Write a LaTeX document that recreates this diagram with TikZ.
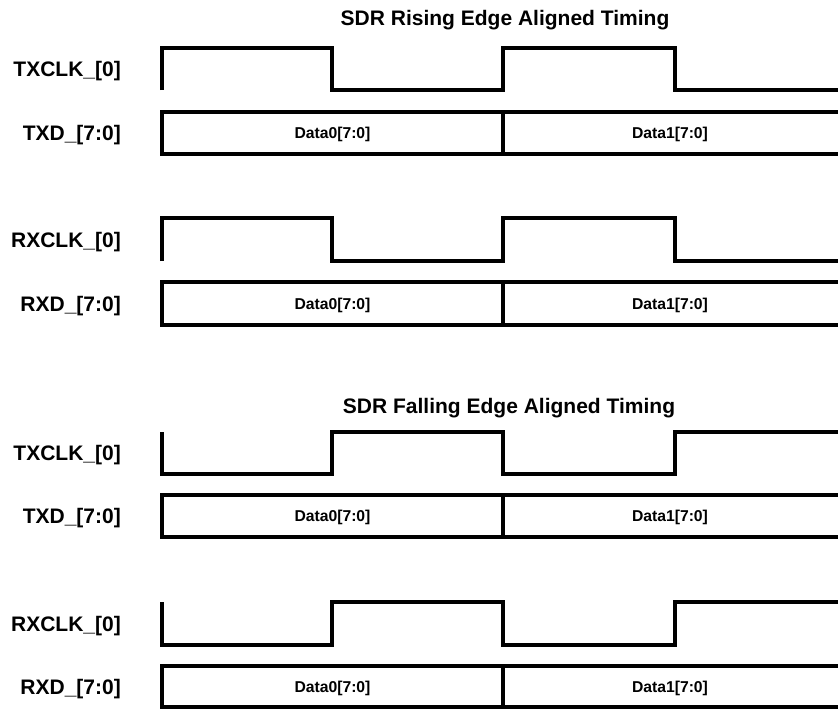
\documentclass[tikz,border=0pt]{standalone}
\usepackage{fontspec}
\setmainfont{Liberation Sans}

\begin{document}
\begin{tikzpicture}[x=1pt, y=-1pt,
        headline/.style={font=\fontsize{21}{21}\selectfont\bfseries, text height=15pt, text depth=0pt, inner sep=0pt},
        signame/.style={font=\fontsize{21}{21}\selectfont\bfseries, text height=15pt, text depth=0pt, inner sep=0pt, anchor=east},
        datatext/.style={font=\fontsize{15.7}{16}\selectfont\bfseries, text height=11.2pt, text depth=0pt, inner sep=0pt},
        wave/.style={line width=3.2pt, line join=miter},
    ]
    \useasboundingbox (0,0) rectangle (838,709);
    \clip (0,0) rectangle (838,709);

    % rising edge aligned
    \node[headline] (riseTitle) at (505,18.5)  {SDR Rising Edge Aligned Timing};
    \node[signame]  (riseTxClk) at (121,69)    {TXCLK\_[0]};
    \node[signame]  (riseTxD)   at (121,133)   {TXD\_[7:0]};
    \node[signame]  (riseRxClk) at (121,239.5) {RXCLK\_[0]};
    \node[signame]  (riseRxD)   at (121,303.5) {RXD\_[7:0]};
    \node[datatext] (riseTxDa)  at (332.5,133) {Data0[7:0]};
    \node[datatext] (riseTxDb)  at (670,133)   {Data1[7:0]};
    \node[datatext] (riseRxDa)  at (332.5,303.5) {Data0[7:0]};
    \node[datatext] (riseRxDb)  at (670,303.5) {Data1[7:0]};

    \draw[wave] (162,90) -- (162,48) -- (332,48) -- (332,90) -- (503,90) -- (503,48) -- (675,48) -- (675,90) -- (845,90);
    \draw[wave] (845,112) -- (162,112) -- (162,154) -- (845,154);
    \draw[wave] (503,112) -- (503,154);
    \draw[wave] (162,261) -- (162,218) -- (332,218) -- (332,261) -- (503,261) -- (503,218) -- (675,218) -- (675,261) -- (845,261);
    \draw[wave] (845,282) -- (162,282) -- (162,325) -- (845,325);
    \draw[wave] (503,282) -- (503,325);

    % falling edge aligned
    \node[headline] (fallTitle) at (509,406)   {SDR Falling Edge Aligned Timing};
    \node[signame]  (fallTxClk) at (121,453)   {TXCLK\_[0]};
    \node[signame]  (fallTxD)   at (121,516)   {TXD\_[7:0]};
    \node[signame]  (fallRxClk) at (121,623.5) {RXCLK\_[0]};
    \node[signame]  (fallRxD)   at (121,686.5) {RXD\_[7:0]};
    \node[datatext] (fallTxDa)  at (332.5,516) {Data0[7:0]};
    \node[datatext] (fallTxDb)  at (670,516)   {Data1[7:0]};
    \node[datatext] (fallRxDa)  at (332.5,686.5) {Data0[7:0]};
    \node[datatext] (fallRxDb)  at (670,686.5) {Data1[7:0]};

    \draw[wave] (162,432) -- (162,474) -- (332,474) -- (332,432) -- (503,432) -- (503,474) -- (675,474) -- (675,432) -- (845,432);
    \draw[wave] (845,495) -- (162,495) -- (162,537) -- (845,537);
    \draw[wave] (503,495) -- (503,537);
    \draw[wave] (162,602) -- (162,645) -- (332,645) -- (332,602) -- (503,602) -- (503,645) -- (675,645) -- (675,602) -- (845,602);
    \draw[wave] (845,666) -- (162,666) -- (162,707) -- (845,707);
    \draw[wave] (503,666) -- (503,707);
\end{tikzpicture}
\end{document}
